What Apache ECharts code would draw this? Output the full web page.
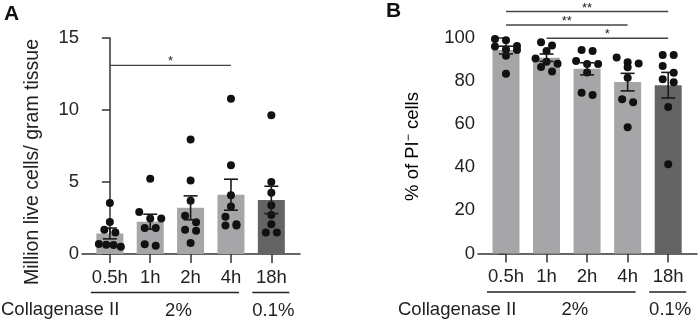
<!DOCTYPE html>
<html><head><meta charset="utf-8">
<script src="https://cdn.jsdelivr.net/npm/echarts@6/dist/echarts.min.js"></script>
<style>html,body{margin:0;padding:0;background:#fff}#c{width:699px;height:321px}</style>
</head><body><div id="c"></div>
<script>
// ---- data ----
const categories = ['0.5h', '1h', '2h', '4h', '18h'];
const concentrations = ['2%', '2%', '2%', '2%', '0.1%'];
const liveCells = [
  [3.55, 2.23, 1.68, 1.5, 0.69, 0.64, 0.62, 0.5],
  [5.23, 2.92, 2.47, 2.47, 1.8, 1.8, 0.67, 0.58],
  [7.95, 5.1, 3.7, 2.65, 2.2, 1.68, 1.61, 0.76],
  [10.78, 6.17, 4.08, 3.3, 2.58, 2.07, 1.98, 1.98],
  [9.63, 5.0, 4.26, 3.39, 2.7, 2.07, 1.5, 1.5]
];
const piNegative = [
  [99.5, 99, 96.3, 96, 94.7, 94.4, 91.8, 83.4],
  [98, 96.5, 94, 90.5, 89, 88, 86.5, 84.5],
  [94.4, 94, 89.3, 87.9, 87.9, 84, 74.6, 73.5],
  [91, 88.7, 88.2, 86.4, 81.5, 71.6, 70.2, 58.6],
  [92.1, 92.1, 87, 83.9, 80.9, 79.5, 68, 41.4]
];
const yMaxA = 15, yStepA = 5;
const yMaxB = 100, yStepB = 20;
// significance brackets: [fromCategory, toCategory, level, label]
const sigA = [[0, 3, 13.1, '*']];
const sigB = [[0, 4, 112.3, '**'], [0, 3, 106, '**'], [1, 4, 99.9, '*']];

// ---- helpers ----
const mean = a => a.reduce((s, v) => s + v, 0) / a.length;
const sem = a => { const m = mean(a); return Math.sqrt(a.reduce((s, v) => s + (v - m) * (v - m), 0) / (a.length - 1) / a.length); };
const LIGHT = '#a6a6a9', DARK = '#646464', INK = '#1a1a1a', AX = '#333';
const FONT = 'Liberation Sans, Arial, sans-serif';
const FS = 18.5;

const groups = [];
concentrations.forEach((c, i) => {
  const g = groups[groups.length - 1];
  if (g && g.label === c) g.to = i; else groups.push({ label: c, from: i, to: i });
});

const chart = echarts.init(document.getElementById('c'), null, { renderer: 'canvas' });

function xAxisDef(gi) {
  return {
    type: 'value', gridIndex: gi, min: -0.69, max: 4.71,
    splitLine: { show: false },
    axisLine: { lineStyle: { color: AX, width: 1.5 } },
    axisTick: { customValues: categories.map((c, i) => i), length: 9, lineStyle: { color: AX, width: 1.5 } },
    axisLabel: { customValues: categories.map((c, i) => i), formatter: v => categories[Math.round(v)] || '',
      fontSize: FS, color: '#222', margin: 14, fontFamily: FONT }
  };
}
function yAxisDef(gi, max, step) {
  return {
    type: 'value', gridIndex: gi, min: 0, max: max, interval: step,
    splitLine: { show: false },
    axisLine: { show: true, lineStyle: { color: AX, width: 1.5 } },
    axisTick: { show: true, length: 8, lineStyle: { color: AX, width: 1.5 } },
    axisLabel: { fontSize: FS, color: '#222', margin: 3, fontFamily: FONT }
  };
}

function barSeries(gi, data) {
  return {
    type: 'bar', xAxisIndex: gi, yAxisIndex: gi, barWidth: 27, z: 1,
    data: data.map((d, i) => ({ value: [i, mean(d)], itemStyle: { color: concentrations[i] === '2%' ? LIGHT : DARK } })),
    silent: true
  };
}
function errSeries(gi, data) {
  return {
    type: 'custom', xAxisIndex: gi, yAxisIndex: gi, z: 4, silent: true,
    data: data.map((d, i) => [i, mean(d), sem(d)]),
    renderItem: (params, api) => {
      const x = api.value(0), m = api.value(1), s = api.value(2);
      const t = api.coord([x, m + s]), b = api.coord([x, m - s]);
      const hw = 7, st = { stroke: INK, lineWidth: 1.6 };
      return { type: 'group', children: [
        { type: 'line', shape: { x1: t[0], y1: t[1], x2: b[0], y2: b[1] }, style: st },
        { type: 'line', shape: { x1: t[0] - hw, y1: t[1], x2: t[0] + hw, y2: t[1] }, style: st },
        { type: 'line', shape: { x1: b[0] - hw, y1: b[1], x2: b[0] + hw, y2: b[1] }, style: st }
      ] };
    }
  };
}
function sigSeries(gi, sig) {
  return {
    type: 'custom', xAxisIndex: gi, yAxisIndex: gi, z: 5, silent: true, clip: false,
    data: sig.map(s => [s[0], s[1], s[2]]),
    renderItem: (params, api) => {
      const a = api.coord([api.value(0), api.value(2)]), b = api.coord([api.value(1), api.value(2)]);
      return { type: 'group', children: [
        { type: 'line', shape: { x1: a[0], y1: a[1], x2: b[0], y2: b[1] }, style: { stroke: '#444', lineWidth: 1.4 } },
        { type: 'text', x: (a[0] + b[0]) / 2, y: a[1] + 3, style: { text: sig[params.dataIndex][3], fill: '#222',
          fontSize: 13, align: 'center', verticalAlign: 'bottom', fontFamily: FONT } }
      ] };
    }
  };
}
function groupSeries(gi) {
  return {
    type: 'custom', xAxisIndex: gi, yAxisIndex: gi, z: 5, silent: true, clip: false,
    data: groups.map(g => [g.from, g.to]),
    renderItem: (params, api) => {
      const g = groups[params.dataIndex];
      const a = api.coord([api.value(0), 0]), b = api.coord([api.value(1), 0]);
      const left = a[0] - 19, right = b[0] + (g.from === g.to ? 18 : 8);
      const ly = a[1] + 38.5;
      const tx = g.from === g.to ? (a[0] + b[0]) / 2 + 2 : api.coord([(g.from + g.to) / 2 + 0.2, 0])[0];
      return { type: 'group', children: [
        { type: 'line', shape: { x1: left, y1: ly, x2: right, y2: ly }, style: { stroke: '#222', lineWidth: 1.4 } },
        { type: 'text', x: tx, y: ly + 18, style: { text: g.label, fill: '#222', fontSize: FS, align: 'center',
          verticalAlign: 'middle', fontFamily: FONT } }
      ] };
    }
  };
}
function scatterSeries(gi) {
  return { type: 'scatter', xAxisIndex: gi, yAxisIndex: gi, z: 3, silent: true, symbolSize: 8,
    itemStyle: { color: '#111', opacity: 1 }, data: [] };
}

const option = {
  animation: false,
  backgroundColor: '#fff',
  grid: [
    { left: 82, top: 38, width: 218, height: 216 },
    { left: 478, top: 38, width: 219, height: 215.5 }
  ],
  xAxis: [xAxisDef(0), xAxisDef(1)],
  yAxis: [yAxisDef(0, yMaxA, yStepA), yAxisDef(1, yMaxB, yStepB)],
  graphic: [
    { type: 'text', left: 4, top: 4, style: { text: 'A', font: 'bold 21px ' + FONT, fill: '#111' } },
    { type: 'text', left: 386, top: 1, style: { text: 'B', font: 'bold 21px ' + FONT, fill: '#111' } },
    { type: 'text', left: 1, top: 300, style: { text: 'Collagenase II', font: FS + 'px ' + FONT, fill: '#222' } },
    { type: 'text', left: 398, top: 300, style: { text: 'Collagenase II', font: FS + 'px ' + FONT, fill: '#222' } },
    { type: 'text', x: 32.5, y: 162, rotation: Math.PI / 2,
      style: { text: 'Million live cells/ gram tissue', font: '19.5px ' + FONT, fill: '#222', align: 'center', verticalAlign: 'middle' } },
    { type: 'text', x: 413, y: 146.5, rotation: Math.PI / 2,
      style: { text: '{a|% of PI}{s|−}{a| cells}', align: 'center', verticalAlign: 'middle',
        rich: { a: { fontSize: 18.5, fontFamily: FONT, color: '#222', lineHeight: 20 },
                s: { fontSize: 12, fontFamily: FONT, color: '#222', verticalAlign: 'top', lineHeight: 12 } } } }
  ],
  series: [
    barSeries(0, liveCells), scatterSeries(0), errSeries(0, liveCells), sigSeries(0, sigA), groupSeries(0),
    barSeries(1, piNegative), scatterSeries(1), errSeries(1, piNegative), sigSeries(1, sigB), groupSeries(1)
  ]
};
chart.setOption(option);

// beeswarm layout for the individual points, computed through the axes
function swarm(gi, sets) {
  const out = [];
  sets.forEach((vals, ci) => {
    const pts = vals.map(v => ({ v, py: chart.convertToPixel({ gridIndex: gi }, [ci, v])[1] }));
    pts.sort((a, b) => a.py - b.py);
    const rows = [];
    pts.forEach(p => {
      const r = rows[rows.length - 1];
      if (r && p.py - r[0].py < 7.5) r.push(p); else rows.push([p]);
    });
    const cx = chart.convertToPixel({ gridIndex: gi }, [ci, 0])[0];
    rows.forEach(r => {
      const n = r.length, step = n > 1 ? Math.min(11, 22 / (n - 1)) : 0;
      r.forEach((p, i) => {
        const px = cx + (i - (n - 1) / 2) * step;
        out.push([chart.convertFromPixel({ gridIndex: gi }, [px, p.py])[0], p.v]);
      });
    });
  });
  return out;
}
option.series[1].data = swarm(0, liveCells);
option.series[6].data = swarm(1, piNegative);
chart.setOption({ series: option.series });
</script></body></html>
